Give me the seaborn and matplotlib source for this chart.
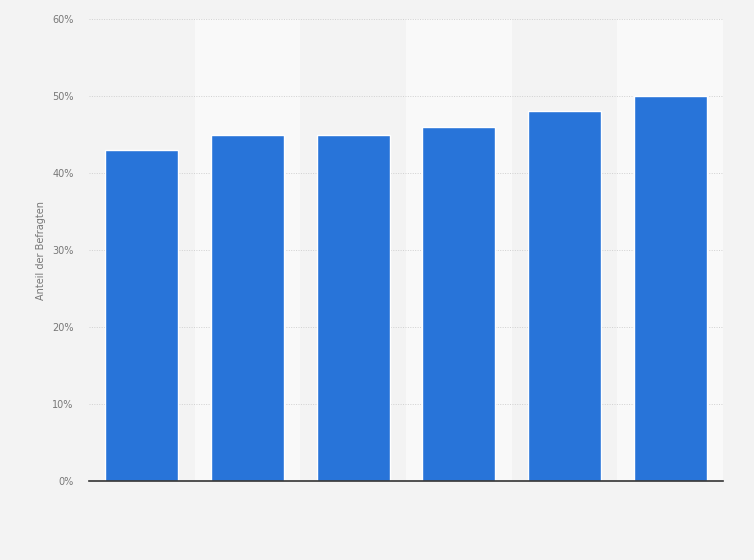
import matplotlib
matplotlib.use("Agg")
import matplotlib.pyplot as plt
import seaborn as sns
import pandas as pd
from matplotlib.ticker import FuncFormatter

# values (x categories are unlabeled in the reference)
categories = ["1", "2", "3", "4", "5", "6"]
shares = [43, 45, 45, 46, 48, 50]
y_ticks = [0, 10, 20, 30, 40, 50, 60]

df = pd.DataFrame({"cat": categories, "share": shares})

sns.set_style("white")
plt.rcParams["font.family"] = ["DejaVu Sans"]

fig = plt.figure(figsize=(7.54, 5.6), dpi=100, facecolor="#f3f3f3")
ax = fig.add_axes([0.118, 0.141, 0.841, 0.825])
ax.set_facecolor("#f3f3f3")

# alternating light column bands
for i in range(len(categories)):
    if i % 2 == 1:
        ax.axvspan(i - 0.5, i + 0.5, color="#f9f9f9", zorder=0, lw=0)

sns.barplot(data=df, x="cat", y="share", color="#2874d9", width=0.69,
            saturation=1, ax=ax, zorder=3)

ax.set_xlim(-0.5, len(categories) - 0.5)
ax.set_ylim(0, 60)
ax.set_yticks(y_ticks)
ax.yaxis.set_major_formatter(FuncFormatter(lambda v, p: f"{v:.0f}%"))
ax.tick_params(axis="y", labelsize=7, colors="#777777", length=0, pad=11)
ax.set_xticks(range(len(categories)))
ax.set_xticklabels([""] * len(categories))
ax.tick_params(axis="x", length=0)
ax.grid(axis="y", color="#d0d0d0", linestyle=(0, (1, 1.5)), linewidth=0.7, zorder=1)
ax.set_axisbelow(True)

for s in ["top", "right", "left"]:
    ax.spines[s].set_visible(False)
ax.spines["bottom"].set_color("#333333")
ax.spines["bottom"].set_linewidth(1.2)
ax.spines["bottom"].set_zorder(5)

ax.set_xlabel("")
ax.set_ylabel("Anteil der Befragten", fontsize=7, color="#777777")
ax.yaxis.set_label_coords(-0.068, 0.5)

fig.savefig("out.png", dpi=100, facecolor=fig.get_facecolor())
